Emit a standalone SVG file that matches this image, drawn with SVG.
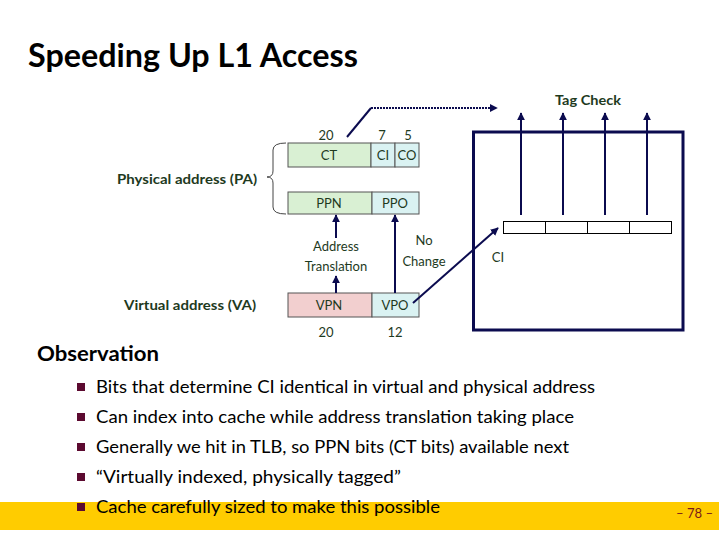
<svg xmlns="http://www.w3.org/2000/svg" width="719" height="539" viewBox="0 0 719 539">
<defs>
<marker id="ah" viewBox="0 0 10 10" refX="9" refY="5" markerWidth="4" markerHeight="4" orient="auto-start-reverse" markerUnits="strokeWidth">
<path d="M0,0 L10,5 L0,10 z" fill="#0b0b4f"/>
</marker>
<style>
.t{font-family:Lato,"Open Sans","Liberation Sans",sans-serif;}
.g{fill:#1e3a1e;font-size:13px;text-anchor:middle;}
.gb{fill:#1e3a1e;font-size:13px;font-weight:bold;}
.box{stroke:#555;stroke-width:1;}
.ln{stroke:#0b0b4f;stroke-width:2;fill:none;}
.bul{font-size:18px;fill:#000;}
.sq{fill:#5c0a30;}
</style>
</defs>
<rect width="719" height="539" fill="#fff"/>
<rect x="0" y="502" width="719" height="28" fill="#ffcc00"/>
<text class="t" x="28" y="67" font-size="32" font-weight="bold" textLength="330" lengthAdjust="spacingAndGlyphs">Speeding Up L1 Access</text>

<g id="labels">
<text class="t gb" x="555" y="105" textLength="66" lengthAdjust="spacingAndGlyphs">Tag Check</text>
<text class="t gb" x="117" y="184" textLength="140" lengthAdjust="spacingAndGlyphs">Physical address (PA)</text>
<text class="t gb" x="124" y="310" textLength="132" lengthAdjust="spacingAndGlyphs">Virtual address (VA)</text>
<text class="t g" x="326" y="140">20</text>
<text class="t g" x="382" y="140">7</text>
<text class="t g" x="408" y="140">5</text>
<text class="t g" x="336" y="251">Address</text>
<text class="t g" x="336" y="271">Translation</text>
<text class="t g" x="424" y="245">No</text>
<text class="t g" x="424" y="266">Change</text>
<text class="t g" x="326" y="337">20</text>
<text class="t g" x="395" y="337">12</text>
<text class="t g" x="498" y="262">CI</text>
</g>

<g id="pa-top">
<rect class="box" x="288" y="143" width="83" height="24" fill="#d9f0d3"/>
<rect class="box" x="371" y="143" width="24" height="24" fill="#daf2f2"/>
<rect class="box" x="395" y="143" width="24" height="24" fill="#daf2f2"/>
<text class="t g" x="329" y="160">CT</text>
<text class="t g" x="383" y="160">CI</text>
<text class="t g" x="407" y="160">CO</text>
</g>
<g id="pa-bottom">
<rect class="box" x="288" y="192" width="84" height="22" fill="#d9f0d3"/>
<rect class="box" x="372" y="192" width="47" height="22" fill="#daf2f2"/>
<text class="t g" x="329" y="208">PPN</text>
<text class="t g" x="395" y="208">PPO</text>
</g>
<g id="va">
<rect class="box" x="288" y="293" width="84" height="24" fill="#f2cfcf"/>
<rect class="box" x="372" y="293" width="47" height="24" fill="#daf2f2"/>
<text class="t g" x="329" y="310">VPN</text>
<text class="t g" x="395" y="310">VPO</text>
</g>
<g id="brace">
<path d="M286,143 Q273,143 273,150 L273,171 Q273,177 267,177 Q273,177 273,183 L273,207 Q273,214 286,214" fill="none" stroke="#444" stroke-width="1"/>
</g>

<g id="cache">
<rect x="473.5" y="132" width="209.5" height="198" fill="none" stroke="#0b0b4f" stroke-width="3"/>
<rect x="503.5" y="221.5" width="42" height="12" fill="#fff" stroke="#000" stroke-width="1"/>
<rect x="545.5" y="221.5" width="42" height="12" fill="#fff" stroke="#000" stroke-width="1"/>
<rect x="587.5" y="221.5" width="42" height="12" fill="#fff" stroke="#000" stroke-width="1"/>
<rect x="629.5" y="221.5" width="42" height="12" fill="#fff" stroke="#000" stroke-width="1"/>
</g>

<g id="connectors">
<line class="ln" x1="521" y1="215" x2="521" y2="113" marker-end="url(#ah)"/>
<line class="ln" x1="563" y1="215" x2="563" y2="113" marker-end="url(#ah)"/>
<line class="ln" x1="605" y1="215" x2="605" y2="113" marker-end="url(#ah)"/>
<line class="ln" x1="647" y1="215" x2="647" y2="113" marker-end="url(#ah)"/>
<line class="ln" x1="336" y1="293" x2="336" y2="276" marker-end="url(#ah)"/>
<line class="ln" x1="336" y1="238" x2="336" y2="215" marker-end="url(#ah)"/>
<line class="ln" x1="395" y1="293" x2="395" y2="215" marker-end="url(#ah)"/>
<line class="ln" x1="413" y1="303" x2="498" y2="228" marker-end="url(#ah)"/>
<path class="ln" d="M347,137 L371,108"/>
<line class="ln" x1="371" y1="108" x2="497" y2="108" stroke-dasharray="2 1" marker-end="url(#ah)"/>
</g>

<g id="observation">
<text class="t" x="37" y="361" font-size="21" font-weight="bold" textLength="122" lengthAdjust="spacingAndGlyphs">Observation</text>
<rect class="sq" x="77" y="383" width="8" height="8"/>
<rect class="sq" x="77" y="413" width="8" height="8"/>
<rect class="sq" x="77" y="443" width="8" height="8"/>
<rect class="sq" x="77" y="473" width="8" height="8"/>
<rect class="sq" x="77" y="503" width="8" height="8"/>
<text class="t bul" x="96" y="393" textLength="499" lengthAdjust="spacingAndGlyphs">Bits that determine CI identical in virtual and physical address</text>
<text class="t bul" x="96" y="423" textLength="478" lengthAdjust="spacingAndGlyphs">Can index into cache while address translation taking place</text>
<text class="t bul" x="96" y="453" textLength="473" lengthAdjust="spacingAndGlyphs">Generally we hit in TLB, so PPN bits (CT bits) available next</text>
<text class="t bul" x="96" y="483" textLength="305" lengthAdjust="spacingAndGlyphs">“Virtually indexed, physically tagged”</text>
<text class="t bul" x="96" y="513" textLength="344" lengthAdjust="spacingAndGlyphs">Cache carefully sized to make this possible</text>
</g>
<text class="t" x="676" y="518" font-size="13" fill="#7a1a1a" textLength="37" lengthAdjust="spacingAndGlyphs">– 78 –</text>
</svg>
